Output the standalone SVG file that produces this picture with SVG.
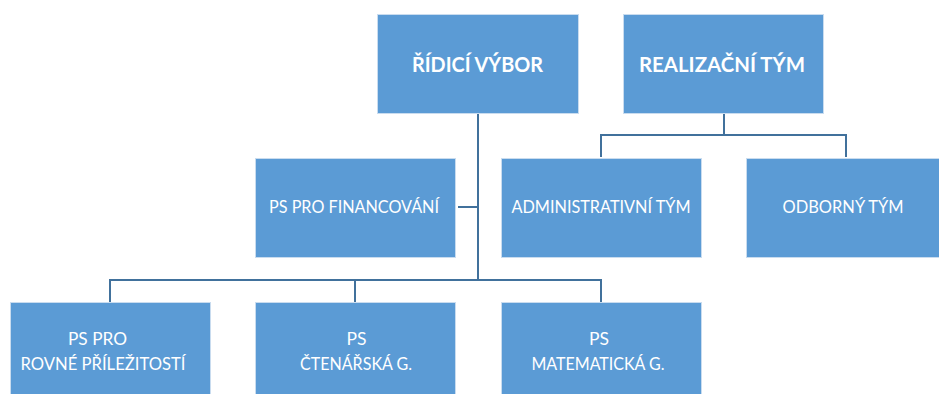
<svg xmlns="http://www.w3.org/2000/svg" width="939" height="394" viewBox="0 0 939 394">
<style>
.box{fill:#5B9BD5;stroke:#C9DCEF;stroke-width:1}
.t{fill:#FFFFFF;font-family:Lato,"Open Sans","Liberation Sans",sans-serif;font-size:17px;text-anchor:middle}
.b{font-weight:bold;font-size:21px}
.c{fill:none;stroke:#41719C;stroke-width:2}
</style>
<rect width="939" height="394" fill="#FFFFFF"/>
<g id="connectors">
<path class="c" d="M478 113V280"/>
<path class="c" d="M458 207H478"/>
<path class="c" d="M110 302V280H601V302"/>
<path class="c" d="M355 280V302"/>
<path class="c" d="M724 113V135"/>
<path class="c" d="M601 157V135H846V157"/>
</g>
<g id="ridici-vybor">
<rect class="box" x="377.5" y="14.5" width="201" height="99"/>
<text class="t b" x="477.5" y="72" textLength="131" lengthAdjust="spacingAndGlyphs">ŘÍDICÍ VÝBOR</text>
</g>
<g id="realizacni-tym">
<rect class="box" x="623.5" y="14.5" width="200" height="99"/>
<text class="t b" x="722" y="72" textLength="166" lengthAdjust="spacingAndGlyphs">REALIZAČNÍ TÝM</text>
</g>
<g id="ps-financovani">
<rect class="box" x="255.5" y="158.5" width="200" height="99"/>
<text class="t" x="354" y="213" textLength="170" lengthAdjust="spacingAndGlyphs">PS PRO FINANCOVÁNÍ</text>
</g>
<g id="administrativni-tym">
<rect class="box" x="501.5" y="158.5" width="200" height="99"/>
<text class="t" x="601" y="213" textLength="179" lengthAdjust="spacingAndGlyphs">ADMINISTRATIVNÍ TÝM</text>
</g>
<g id="odborny-tym">
<rect class="box" x="746.5" y="158.5" width="200" height="99"/>
<text class="t" x="843" y="213" textLength="121" lengthAdjust="spacingAndGlyphs">ODBORNÝ TÝM</text>
</g>
<g id="ps-rovne-prilezitosti">
<rect class="box" x="10.5" y="302.5" width="200" height="99"/>
<text class="t" x="97.5" y="345" textLength="59" lengthAdjust="spacingAndGlyphs">PS PRO</text>
<text class="t" x="103" y="370" textLength="165" lengthAdjust="spacingAndGlyphs">ROVNÉ PŘÍLEŽITOSTÍ</text>
</g>
<g id="ps-ctenarska">
<rect class="box" x="255.5" y="302.5" width="200" height="99"/>
<text class="t" x="356.5" y="345" textLength="20" lengthAdjust="spacingAndGlyphs">PS</text>
<text class="t" x="356" y="370" textLength="112" lengthAdjust="spacingAndGlyphs">ČTENÁŘSKÁ G.</text>
</g>
<g id="ps-matematicka">
<rect class="box" x="501.5" y="302.5" width="200" height="99"/>
<text class="t" x="599" y="345" textLength="20" lengthAdjust="spacingAndGlyphs">PS</text>
<text class="t" x="598" y="370" textLength="133" lengthAdjust="spacingAndGlyphs">MATEMATICKÁ G.</text>
</g>
</svg>
